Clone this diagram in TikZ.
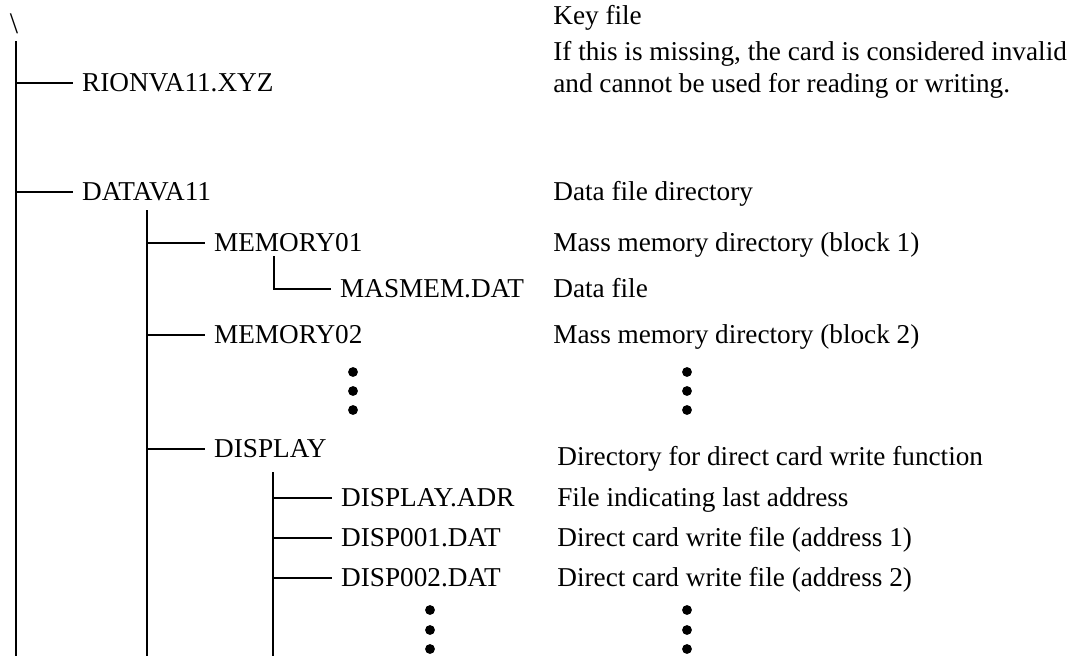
\documentclass[tikz,border=0pt]{standalone}
\usepackage{fontspec}
\setmainfont{Liberation Serif}

\begin{document}
\begin{tikzpicture}[
    x=0.02cm, y=-0.02cm,
    entry/.style={
        anchor=west,
        inner xsep=5pt, inner ysep=0pt,
        font=\fontsize{15.5}{18}\selectfont,
        text height=10.2pt, text depth=0pt
    },
    note/.style={
        anchor=west,
        inner sep=0pt,
        font=\fontsize{15.5}{18}\selectfont,
        text height=10.2pt, text depth=0pt
    },
    wire/.style={line width=1.6pt},
    vdot/.style={circle, fill, inner sep=0pt, minimum size=5.6pt}
]
\useasboundingbox (0,0) rectangle (1072,656);

\node[inner sep=0pt, font=\fontsize{17}{18}\selectfont] (root) at (14,24) {\textbackslash};

\node[entry] (rion) at (73,83) {RIONVA11.XYZ};
\node[entry] (datava) at (73,192) {DATAVA11};
\node[entry] (mem1) at (205,243) {MEMORY01};
\node[entry] (masmem) at (331,289) {MASMEM.DAT};
\node[entry] (mem2) at (205,335) {MEMORY02};
\node[entry] (disp) at (205,449) {DISPLAY};
\node[entry] (dispadr) at (332,498) {DISPLAY.ADR};
\node[entry] (disp1) at (332,538) {DISP001.DAT};
\node[entry] (disp2) at (332,578) {DISP002.DAT};

\node[note] (keyfile) at (553,16) {Key file};
\node[note] (keynote1) at (553,52) {If this is missing, the card is considered invalid};
\node[note] (keynote2) at (553,84) {and cannot be used for reading or writing.};
\node[note] (datadir) at (553,192) {Data file directory};
\node[note] (memdir1) at (553,243) {Mass memory directory (block 1)};
\node[note] (datafile) at (553,289) {Data file};
\node[note] (memdir2) at (553,335) {Mass memory directory (block 2)};
\node[note] (dispdir) at (557,457) {Directory for direct card write function};
\node[note] (lastadr) at (557,498) {File indicating last address};
\node[note] (dispfile1) at (557,538) {Direct card write file (address 1)};
\node[note] (dispfile2) at (557,578) {Direct card write file (address 2)};

\foreach \y [count=\i] in {372,391,410} {
    \node[vdot] (memdot\i) at (353,\y) {};
    \node[vdot] (memnotedot\i) at (687,\y) {};
}
\foreach \y [count=\i] in {610,630,649} {
    \node[vdot] (dispdot\i) at (430,\y) {};
    \node[vdot] (dispnotedot\i) at (687,\y) {};
}

\coordinate (trunk0) at (16,41);
\coordinate (trunk0end) at (16,656);
\coordinate (trunk1) at (147,210);
\coordinate (trunk1end) at (147,656);
\coordinate (trunk2) at (274,256);
\coordinate (trunk3) at (273,472);
\coordinate (trunk3end) at (273,656);

\draw[wire] (trunk0) -- (trunk0end);
\draw[wire] (trunk0 |- rion.west) -- (rion.west);
\draw[wire] (trunk0 |- datava.west) -- (datava.west);

\draw[wire] (trunk1) -- (trunk1end);
\draw[wire] (trunk1 |- mem1.west) -- (mem1.west);
\draw[wire] (trunk1 |- mem2.west) -- (mem2.west);
\draw[wire] (trunk1 |- disp.west) -- (disp.west);

\draw[wire] (trunk2) |- (masmem.west);

\draw[wire] (trunk3) -- (trunk3end);
\draw[wire] (trunk3 |- dispadr.west) -- (dispadr.west);
\draw[wire] (trunk3 |- disp1.west) -- (disp1.west);
\draw[wire] (trunk3 |- disp2.west) -- (disp2.west);

\end{tikzpicture}
\end{document}
